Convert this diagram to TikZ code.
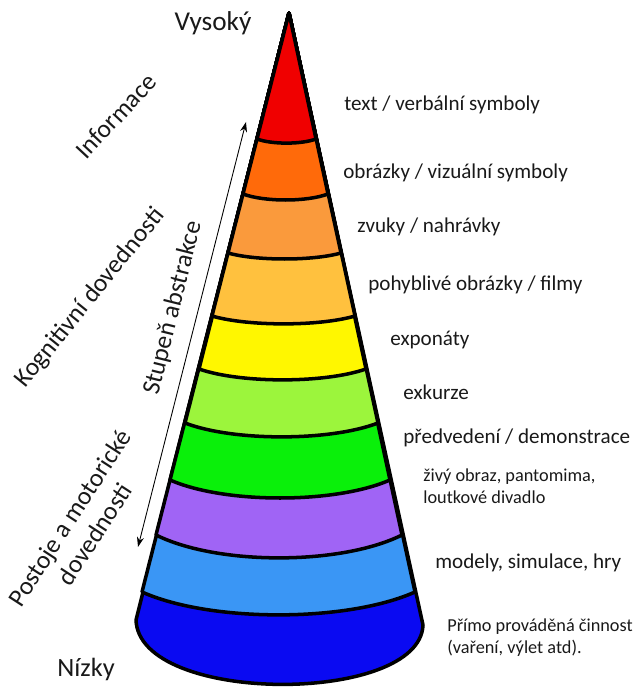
\documentclass[tikz,border=0pt]{standalone}
\usepackage{fontspec}
\setmainfont{Carlito}
\usepackage{xcolor}
\usetikzlibrary{arrows.meta}
\definecolor{lvred}{HTML}{F00000}
\definecolor{lvorange}{HTML}{FF6A0A}
\definecolor{lvapricot}{HTML}{FA9A3C}
\definecolor{lvgold}{HTML}{FFC13E}
\definecolor{lvyellow}{HTML}{FFF700}
\definecolor{lvlime}{HTML}{9CF53C}
\definecolor{lvgreen}{HTML}{0AF00A}
\definecolor{lvviolet}{HTML}{A064F5}
\definecolor{lvsky}{HTML}{3A96F5}
\definecolor{lvblue}{HTML}{0A0AF2}
\tikzset{
  band/.style={draw=black, line width=2pt, line join=round},
  lvlab/.style={anchor=west, inner sep=0pt, text=black!90,
                font=\fontsize{12}{14}\selectfont},
  lvsmall/.style={lvlab, align=left, font=\fontsize{10.4}{12.5}\selectfont},
  sidelab/.style={inner sep=0pt, text=black!90, align=center,
                  font=\fontsize{14.5}{17}\selectfont},
  absarrow/.style={line width=0.5pt, {Stealth[length=2mm,width=1.4mm]}-{Stealth[length=2mm,width=1.4mm]}}
}

\begin{document}
\begin{tikzpicture}
  \useasboundingbox (0,0) rectangle (12.68,13.80);
  \coordinate (apex) at (5.78,13.54);
  % cone, painted from the base upwards
  \filldraw[band, fill=lvblue] (apex) -- (2.72,1.40) .. controls (2.78,-0.30) and (8.40,-0.30) .. (8.46,1.30) -- cycle;
  \filldraw[band, fill=lvsky] (apex) -- (2.84,1.96) .. controls (4.205,1.35) and (6.935,1.35) .. (8.30,1.96) -- cycle;
  \filldraw[band, fill=lvviolet] (apex) -- (3.12,3.10) .. controls (4.35,2.49) and (6.81,2.49) .. (8.04,3.10) -- cycle;
  \filldraw[band, fill=lvgreen] (apex) -- (3.40,4.20) .. controls (4.50,3.72) and (6.70,3.72) .. (7.80,4.20) -- cycle;
  \filldraw[band, fill=lvlime] (apex) -- (3.70,5.34) .. controls (4.665,4.97) and (6.595,4.97) .. (7.56,5.34) -- cycle;
  \filldraw[band, fill=lvyellow] (apex) -- (3.98,6.42) .. controls (4.815,6.13) and (6.485,6.13) .. (7.32,6.42) -- cycle;
  \filldraw[band, fill=lvgold] (apex) -- (4.24,7.48) .. controls (4.955,7.27) and (6.385,7.27) .. (7.10,7.48) -- cycle;
  \filldraw[band, fill=lvapricot] (apex) -- (4.56,8.74) .. controls (5.125,8.58) and (6.255,8.58) .. (6.82,8.74) -- cycle;
  \filldraw[band, fill=lvorange] (apex) -- (4.86,9.92) .. controls (5.285,9.76) and (6.135,9.76) .. (6.56,9.92) -- cycle;
  \filldraw[band, fill=lvred] (apex) -- (5.14,11.02) .. controls (5.435,10.91) and (6.025,10.91) .. (6.32,11.02) -- cycle;

  % levels
  \node[lvlab] (l1) at (6.88,11.70) {text / verbální symboly};
  \node[lvlab] (l2) at (6.86,10.34) {obrázky / vizuální symboly};
  \node[lvlab] (l3) at (7.14,9.26) {zvuky / nahrávky};
  \node[lvlab] (l4) at (7.36,8.10) {pohyblivé obrázky / filmy};
  \node[lvlab] (l5) at (7.80,7.00) {exponáty};
  \node[lvlab] (l6) at (8.06,5.96) {exkurze};
  \node[lvlab] (l7) at (8.06,5.04) {předvedení / demonstrace};
  \node[lvsmall] (l8) at (8.46,4.07) {živý obraz, pantomima,\\loutkové divadlo};
  \node[lvlab] (l9) at (8.70,2.54) {modely, simulace, hry};
  \node[lvsmall] (l10) at (8.94,1.04) {Přímo prováděná činnost\\(vaření, výlet atd).};

  % left side
  \node[sidelab, font=\fontsize{15.5}{18}\selectfont] (vysoky) at (4.26,13.34) {Vysoký};
  \node[sidelab, font=\fontsize{15}{18}\selectfont] (nizky) at (1.72,0.42) {Nízky};
  \node[sidelab, rotate=47] (info) at (2.32,11.48) {Informace};
  \node[sidelab, rotate=51] (kogn) at (1.80,7.84) {Kognitivní dovednosti};
  \node[sidelab, rotate=57] (postoje) at (1.64,3.28) {Postoje a motorické\\dovednosti};
  \node[sidelab, rotate=76] (stupen) at (3.46,7.64) {Stupeň abstrakce};
  \coordinate (abshi) at (4.92,11.36);
  \coordinate (abslo) at (2.76,2.86);
  \draw[absarrow] (abshi) -- (abslo);
\end{tikzpicture}
\end{document}
